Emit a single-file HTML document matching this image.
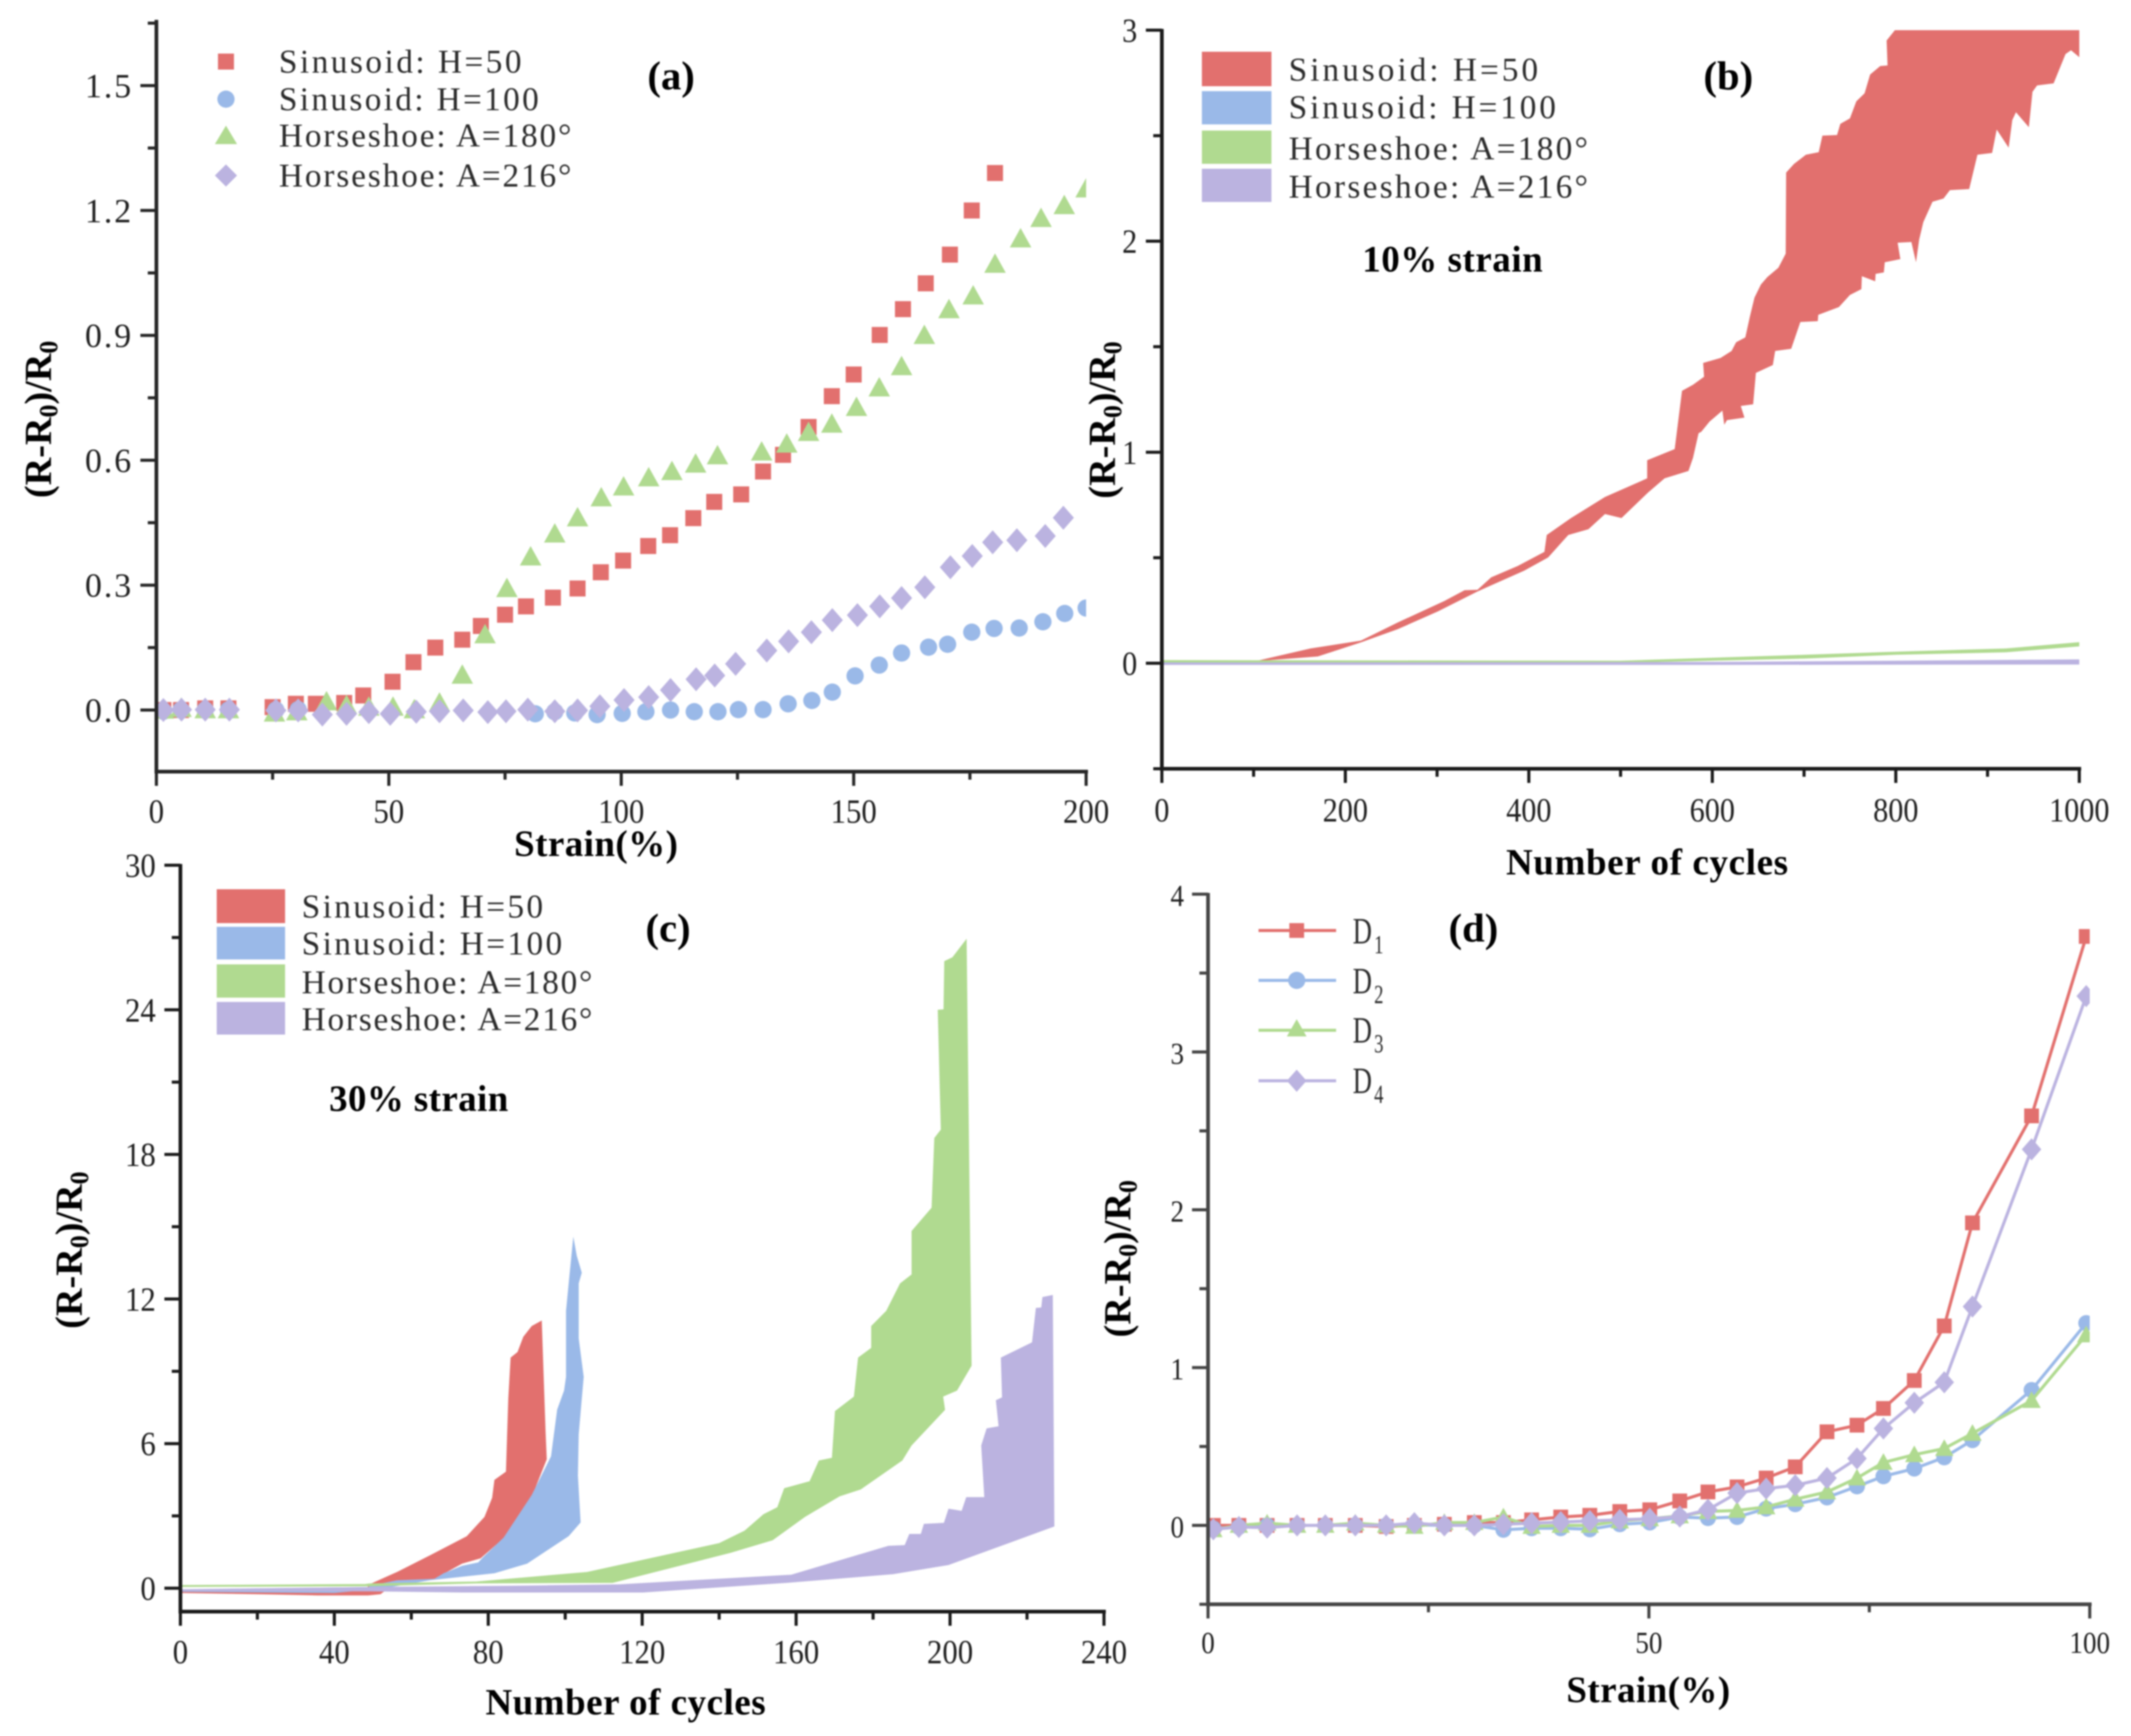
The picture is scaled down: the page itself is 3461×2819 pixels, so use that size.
<!DOCTYPE html>
<html lang="en">
<head>
<meta charset="utf-8">
<title>Resistance change panels</title>
<style>
html,body{margin:0;padding:0;background:#fff;}
svg{display:block;filter:blur(1.2px);}
.tick{font-family:"Liberation Serif",serif;fill:#1e1e1e;}
.leg{font-family:"Liberation Serif",serif;font-size:54px;fill:#2a2a2a;}
.bold{font-family:"Liberation Serif",serif;font-weight:bold;fill:#000;}
</style>
</head>
<body>
<svg id="fig" xmlns="http://www.w3.org/2000/svg" width="3461" height="2819" viewBox="0 0 3461 2819">
<rect width="3461" height="2819" fill="#fff"/>
<defs>
<clipPath id="clip-a"><rect x="254" y="0" width="1510" height="1400"/></clipPath>
<clipPath id="clip-b"><rect x="1887" y="49" width="1490" height="1200"/></clipPath>
<clipPath id="clip-c"><rect x="293" y="1405" width="1500" height="1213"/></clipPath>
<clipPath id="clip-d"><rect x="1962" y="1400" width="1432" height="1300"/></clipPath>
</defs>
<g id="panel-a"></g>
<g id="panel-b"></g>
<g id="panel-c"></g>
<g id="panel-d"></g>

<!-- panel a static text and legend -->
<text class="bold" x="1090" y="145" font-size="66" text-anchor="middle">(a)</text>
<text class="bold" x="968" y="1390" font-size="60" text-anchor="middle" textLength="266">Strain(%)</text>
<text class="bold" transform="translate(83 681) rotate(-90)" font-size="62" text-anchor="middle">(R-R<tspan dy="10" font-size="42">0</tspan><tspan dy="-10">)/R</tspan><tspan dy="10" font-size="42">0</tspan></text>
<g>
<rect x="354" y="87" width="26" height="26" fill="#E2706E"/>
<circle cx="367" cy="161" r="14" fill="#9AB9E8"/>
<polygon points="367,204 385,234 349,234" fill="#B0DA90"/>
<polygon points="367,267 385,285 367,303 349,285" fill="#BBB3E0"/>
<text class="leg" x="453" y="118" textLength="394">Sinusoid: H=50</text>
<text class="leg" x="453" y="179" textLength="422">Sinusoid: H=100</text>
<text class="leg" x="453" y="238" textLength="475">Horseshoe: A=180°</text>
<text class="leg" x="453" y="303" textLength="475">Horseshoe: A=216°</text>
</g>

<!-- panel b static text and legend -->
<text class="bold" x="2807" y="145" font-size="66" text-anchor="middle">(b)</text>
<text class="bold" x="2359" y="441" font-size="60" text-anchor="middle" textLength="293">10% strain</text>
<text class="bold" x="2675" y="1420" font-size="60" text-anchor="middle" textLength="458">Number of cycles</text>
<text class="bold" transform="translate(1811 682) rotate(-90)" font-size="62" text-anchor="middle">(R-R<tspan dy="10" font-size="42">0</tspan><tspan dy="-10">)/R</tspan><tspan dy="10" font-size="42">0</tspan></text>
<g>
<rect x="1952" y="84" width="113" height="56" fill="#E2706E"/>
<rect x="1952" y="148" width="113" height="54" fill="#9AB9E8"/>
<rect x="1952" y="212" width="113" height="54" fill="#B0DA90"/>
<rect x="1952" y="274" width="113" height="54" fill="#BBB3E0"/>
<text class="leg" x="2093" y="131" textLength="405">Sinusoid: H=50</text>
<text class="leg" x="2093" y="192" textLength="434">Sinusoid: H=100</text>
<text class="leg" x="2093" y="259" textLength="486">Horseshoe: A=180°</text>
<text class="leg" x="2093" y="321" textLength="486">Horseshoe: A=216°</text>
</g>

<!-- panel c static text and legend -->
<text class="bold" x="1085" y="1529" font-size="66" text-anchor="middle">(c)</text>
<text class="bold" x="680" y="1804" font-size="60" text-anchor="middle" textLength="291">30% strain</text>
<text class="bold" x="1016" y="2784" font-size="60" text-anchor="middle" textLength="455">Number of cycles</text>
<text class="bold" transform="translate(133 2030) rotate(-90)" font-size="62" text-anchor="middle">(R-R<tspan dy="10" font-size="42">0</tspan><tspan dy="-10">)/R</tspan><tspan dy="10" font-size="42">0</tspan></text>
<g>
<rect x="352" y="1444" width="111" height="55" fill="#E2706E"/>
<rect x="352" y="1505" width="111" height="53" fill="#9AB9E8"/>
<rect x="352" y="1566" width="111" height="54" fill="#B0DA90"/>
<rect x="352" y="1627" width="111" height="53" fill="#BBB3E0"/>
<text class="leg" x="490" y="1490" textLength="392">Sinusoid: H=50</text>
<text class="leg" x="490" y="1550" textLength="423">Sinusoid: H=100</text>
<text class="leg" x="490" y="1613" textLength="472">Horseshoe: A=180°</text>
<text class="leg" x="490" y="1673" textLength="472">Horseshoe: A=216°</text>
</g>

<!-- panel d static text and legend -->
<text class="bold" x="2393" y="1529" font-size="66" text-anchor="middle">(d)</text>
<text class="bold" x="2677" y="2764" font-size="60" text-anchor="middle" textLength="266">Strain(%)</text>
<text class="bold" transform="translate(1836 2044) rotate(-90)" font-size="62" text-anchor="middle">(R-R<tspan dy="10" font-size="42">0</tspan><tspan dy="-10">)/R</tspan><tspan dy="10" font-size="42">0</tspan></text>
<g>
<line x1="2044" y1="1511" x2="2170" y2="1511" stroke="#E2706E" stroke-width="5"/>
<rect x="2094" y="1499" width="24" height="24" fill="#E2706E"/>
<line x1="2044" y1="1592" x2="2170" y2="1592" stroke="#9AB9E8" stroke-width="5"/>
<circle cx="2106" cy="1592" r="14" fill="#9AB9E8"/>
<line x1="2044" y1="1673" x2="2170" y2="1673" stroke="#B0DA90" stroke-width="5"/>
<polygon points="2106,1655 2122,1683 2090,1683" fill="#B0DA90"/>
<line x1="2044" y1="1755" x2="2170" y2="1755" stroke="#BBB3E0" stroke-width="5"/>
<polygon points="2106,1737 2122,1755 2106,1773 2090,1755" fill="#BBB3E0"/>
<text class="leg" transform="translate(2197 1532) scale(.72 1)" style="font-size:60px">D<tspan dx="5" dy="16" font-size="42">1</tspan></text>
<text class="leg" transform="translate(2197 1613) scale(.72 1)" style="font-size:60px">D<tspan dx="5" dy="16" font-size="42">2</tspan></text>
<text class="leg" transform="translate(2197 1693) scale(.72 1)" style="font-size:60px">D<tspan dx="5" dy="16" font-size="42">3</tspan></text>
<text class="leg" transform="translate(2197 1775) scale(.72 1)" style="font-size:60px">D<tspan dx="5" dy="16" font-size="42">4</tspan></text>
</g>
</svg>

<script>
// ---- Panel (a): scatter data ----
const aRedX = [1.5,5.3,10.5,15.5,25,30,34.3,40.4,44.5,50.8,55.3,60,65.8,69.8,75,79.5,85.3,90.6,95.6,100.4,105.8,110.5,115.5,120,125.8,130.5,134.8,140.3,145.3,150,155.6,160.6,165.5,170.7,175.4,180.4];
const aRedY = [0,0,.004,.004,.007,.015,.015,.017,.035,.068,.115,.15,.169,.202,.229,.249,.27,.292,.331,.359,.394,.42,.461,.5,.518,.573,.613,.68,.754,.806,.901,.963,1.025,1.094,1.2,1.29];
const aBlueX = [1.5,5.3,10.5,15.5,25.7,30.5,81.5,85.7,90,94.8,100.2,105.3,110.6,115.7,120.8,125.2,130.5,135.9,141,145.4,150.3,155.5,160.3,166.1,170.2,175.4,180.2,185.6,190.7,195.4,200];
const aBlueY = [-.003,0,0,0,0,.001,-.009,-.004,-.007,-.011,-.008,-.004,0,-.004,-.004,.001,.001,.015,.023,.043,.082,.108,.137,.151,.158,.187,.196,.197,.212,.232,.245];
const aGreenX = [1.5,5.3,10.5,15.5,25.4,30.2,36.6,40.9,45.7,50.9,55.5,60.9,65.8,70.7,75.4,80.5,85.7,90.6,95.7,100.5,105.9,110.9,116,120.7,130.2,135.6,140.3,145.3,150.6,155.5,160.3,165.2,170.5,175.7,180.4,185.9,190.3,195.3,200];
const aGreenY = [0,.004,.001,.001,-.007,-.004,.02,.011,.007,.007,.001,.017,.084,.181,.292,.368,.423,.462,.51,.536,.558,.573,.591,.611,.62,.639,.667,.687,.727,.774,.825,.9,.962,.995,1.071,1.132,1.181,1.212,1.252];
const aPurpleX = [1.5,5.4,10.5,15.7,25.7,30.5,35.7,40.9,45.7,50.3,55.9,60.9,66,71.3,75.2,79.9,85.7,90.6,95.4,100.6,105.9,110.6,116.1,120.1,124.6,131.3,136,140.9,145.4,150.8,155.6,160.3,165.3,170.8,175.5,179.9,185.1,191.2,195.1];
const aPurpleY = [0,.001,.001,.001,-.001,-.001,-.011,-.009,-.005,-.009,-.004,-.003,-.001,-.005,-.003,.001,-.003,-.001,.009,.024,.031,.048,.074,.083,.111,.143,.165,.187,.216,.228,.249,.269,.295,.343,.37,.403,.408,.418,.462];
const aXTicks = [0,50,100,150,200];
const aXMinor = [25,75,125,175];
const aYTicks = [0,.3,.6,.9,1.2,1.5];
const aYLabels = ['0.0','0.3','0.6','0.9','1.2','1.5'];
const aYMinor = [.15,.45,.75,1.05,1.35,1.65];

// ---- Panel (b): band data (upper edge left to right, lower edge right to left) ----
const bRedUpperX = [103,162,217,257,308,330,344,359,388,417,419.5,446,483,529,529,559,567,579,591,590,609,621,626,636,641,646,653,660,672,680,680.5,689,702,716,720,736,739.5,750,757,766,772,783,791,790,799,1000];
const bRedUpperY = [.011,.07,.107,.193,.295,.346,.348,.407,.461,.528,.608,.688,.788,.876,.962,1.015,1.291,1.32,1.358,1.423,1.447,1.48,1.521,1.544,1.644,1.733,1.795,1.83,1.874,1.941,2.325,2.366,2.41,2.422,2.5,2.503,2.556,2.582,2.663,2.701,2.79,2.83,2.833,2.951,3,3];
const bRedLowerX = [1000,991,985,972,954,949,945,931,927,923,910,905,889,880,859,852,840,830,825.5,822,817,802,805,788,787,778,777.5,763,762.5,750,738,715.5,715,696,686,668.5,666,647.5,644.5,631,635,616,613,611,597,588,585,579,574,548,530,501,483,465,443,421,395,344,301,257,217,170,103];
const bRedLowerY = [2.872,2.905,2.887,2.748,2.738,2.708,2.54,2.611,2.574,2.443,2.529,2.418,2.41,2.247,2.242,2.202,2.187,2.09,2.008,1.9,1.996,1.993,1.915,1.9,1.852,1.845,1.81,1.834,1.773,1.745,1.688,1.651,1.621,1.617,1.49,1.48,1.413,1.376,1.227,1.219,1.164,1.152,1.13,1.197,1.145,1.097,1.09,.974,.911,.876,.809,.688,.707,.635,.608,.501,.439,.34,.246,.161,.099,.032,.01];
const bBlueUpperX = [0,1000];
const bBlueUpperY = [.006,.006];
const bBlueLowerX = [1000,0];
const bBlueLowerY = [-.004,-.004];
const bGreenUpperX = [0,500,700,800,920,1000];
const bGreenUpperY = [.015,.012,.04,.055,.07,.10];
const bGreenLowerX = [1000,920,800,700,500,0];
const bGreenLowerY = [.08,.052,.04,.022,.002,.004];
const bPurpleUpperX = [0,600,1000];
const bPurpleUpperY = [.003,.006,.018];
const bPurpleLowerX = [1000,600,0];
const bPurpleLowerY = [-.006,-.008,-.008];
const bXTicks = [0,200,400,600,800,1000];
const bXMinor = [100,300,500,700,900];
const bYTicks = [0,1,2,3];
const bYMinor = [-.5,.5,1.5,2.5];

// ---- Panel (c): band data ----
const cRedUpperX = [0,48,49.1,56.3,64.8,74.4,79,81,81.6,84.6,85.2,85.8,87.6,89.1,91.3,93.9];
const cRedUpperY = [-.05,-.1,.161,.674,1.359,2.157,2.956,3.754,4.496,4.838,7.861,9.57,9.8,10.43,10.88,11.11];
const cRedLowerX = [94.3,94.9,95.2,91.5,84.6,78,73.2,66,56.3,52,48.8,35.7,19.7,0];
const cRedLowerY = [9.23,6.49,5.35,3.87,2.16,1.24,1.02,.39,.275,-.25,-.3,-.3,-.25,-.2];
const cBlueUpperX = [0,49,49.1,56.3,66,68.4,73.2,77.4,78.6,84,91.3,96.3,97.9,99.7,100.2,100.2,100.9,101.6,102.1];
const cBlueUpperY = [-.05,.05,.1,.33,.39,.62,.93,1.07,1.28,2.1,3.87,5.47,7.41,8.2,8.77,11.51,12.65,13.79,14.59];
const cBlueLowerX = [103,104.3,103.5,103.5,104.8,103.5,103.3,104,100.9,90.1,81.6,64.8,52.7,40,0];
const cBlueLowerY = [13.79,13.09,12.65,10.37,8.77,6.38,4.67,2.73,2.16,1.02,.62,.33,-.01,-.2,-.15];
const cGreenUpperX = [0,48,49.1,76.8,105.7,140,146.6,151.5,155.1,156.9,163.5,165.9,169.3,170.1,175,176.1,179.5,179.5,183.4,187,190,190,195.2,195.9,197.6,196.8,198.3,198.5,200.6,204.3];
const cGreenUpperY = [.13,.17,.2,.275,.674,1.87,2.39,3.07,3.36,4.15,4.44,5.3,5.41,7.35,7.95,9.57,9.97,10.88,11.51,12.65,13.02,14.82,15.79,18.68,19.03,24,24.02,26.02,26.18,26.95];
const cGreenLowerX = [205.6,201.8,198.2,198.7,190,187.6,176.8,171.3,162.3,153.9,143,112.3,76.8,49.1,0];
const cGreenLowerY = [9.23,8.2,7.95,7.4,5.92,5.3,4.1,3.81,2.96,1.99,1.47,.22,.2,.08,.05];
const cPurpleUpperX = [0,49.1,85.2,114.1,158.7,184,188.2,189.4,192.4,193.2,198.4,199.6,203,204.2,208.9,208.1,209.5,212.6,211.9,213.5,213.2,221.3,222.3,223.7,224,226.7];
const cPurpleUpperY = [-.04,.05,.1,.16,.56,1.76,1.79,2.25,2.25,2.67,2.71,3.3,3.21,3.78,3.78,5.92,6.63,6.72,7.8,7.92,9.57,10.2,11.63,11.65,12.08,12.17];
const cPurpleLowerX = [227.1,199.6,185.2,157.5,120.2,97.3,73.2,49.1,0];
const cPurpleLowerY = [2.56,.96,.58,.22,-.18,-.18,-.18,-.13,-.12];
const cXTicks = [0,40,80,120,160,200,240];
const cXMinor = [20,60,100,140,180,220];
const cYTicks = [0,6,12,18,24,30];
const cYMinor = [3,9,15,21,27];

// ---- Panel (d): line data ----
const dStrain = [.6,3.5,6.7,10.1,13.3,16.7,20.2,23.4,26.8,30.2,33.5,36.7,40,43.3,46.7,50.1,53.5,56.7,60,63.3,66.6,70.2,73.6,76.6,80.1,83.5,86.7,93.4,99.6];
const dD1 = [0,0,0,0,0,0,-.007,0,.007,.018,.018,.035,.053,.064,.088,.099,.155,.212,.244,.3,.371,.593,.635,.741,.918,1.264,1.917,2.595,3.732];
const dD2 = [-.02,-.01,0,0,0,0,0,.004,0,0,-.028,-.018,-.018,-.025,.007,.018,.053,.046,.053,.106,.134,.177,.247,.311,.36,.431,.54,.858,1.282];
const dD3 = [-.028,0,.014,0,0,.014,0,-.007,.018,.018,.053,-.007,0,0,.028,.042,.06,.088,.095,.117,.166,.212,.3,.399,.448,.487,.583,.791,1.207];
const dD4 = [-.025,-.01,-.014,0,0,0,0,.014,0,0,.007,.014,.021,.028,.035,.042,.056,.099,.205,.233,.254,.3,.424,.614,.777,.907,1.387,2.383,3.354];
const dXTicks = [0,50,100];
const dXMinor = [25,75];
const dYTicks = [0,1,2,3,4];
const dYMinor = [-.5,.5,1.5,2.5,3.5];

const NS = 'http://www.w3.org/2000/svg';
const RED = '#E2706E', BLUE = '#9AB9E8', GREEN = '#B0DA90', PURPLE = '#BBB3E0';

function linear(d0, d1, r0, r1) {
  return function (v) { return r0 + (v - d0) * (r1 - r0) / (d1 - d0); };
}
function make(tag, parent, attrs) {
  const el = document.createElementNS(NS, tag);
  for (const k in attrs) el.setAttribute(k, attrs[k]);
  parent.appendChild(el);
  return el;
}
function tickLabel(g, x, y, anchor, str, o) {
  const l = make('text', g, {
    x: x, y: y, 'text-anchor': anchor, 'class': 'tick',
    style: 'font-size:' + o.size + 'px',
    textLength: str.length * o.charW,
    lengthAdjust: str.indexOf('.') >= 0 ? 'spacing' : 'spacingAndGlyphs'
  });
  l.textContent = str;
  return l;
}

function drawAxes(g, prefix, xs, ys, o) {
  const xAxisY = ys(o.yMin), yAxisX = xs(o.xMin);
  const color = o.color;
  const xLine = make('line', g, {x1: yAxisX - 3, y1: xAxisY, x2: xs(o.xMax) + 3, y2: xAxisY, stroke: color, 'stroke-width': 6});
  
  
  const yLine = make('line', g, {x1: yAxisX, y1: ys(o.yMax) - 2, x2: yAxisX, y2: xAxisY + 2, stroke: color, 'stroke-width': 6});
  
  

  o.xTicks.forEach(function (v) {
    const t = make('line', g, {x1: xs(v), y1: xAxisY, x2: xs(v), y2: xAxisY + 23, stroke: color, 'stroke-width': 5});
    
    
    const l = tickLabel(g, xs(v), o.xLabelY, 'middle', String(v), o);
    
    
  });
  o.xMinor.forEach(function (v) {
    const t = make('line', g, {x1: xs(v), y1: xAxisY, x2: xs(v), y2: xAxisY + 13, stroke: color, 'stroke-width': 5});
    
    
  });
  o.yTicks.forEach(function (v, i) {
    const t = make('line', g, {x1: yAxisX - 26, y1: ys(v), x2: yAxisX, y2: ys(v), stroke: color, 'stroke-width': 5});
    
    
    const l = tickLabel(g, o.yLabelX, ys(v) + 19, 'end', o.yLabels ? o.yLabels[i] : String(v), o);
    
    
  });
  o.yMinor.forEach(function (v) {
    const t = make('line', g, {x1: yAxisX - 14, y1: ys(v), x2: yAxisX, y2: ys(v), stroke: color, 'stroke-width': 5});
    
    
  });
}

function drawBand(g, name, xs, ys, upX, upY, loX, loY, fill, clip) {
  const pts = [];
  upX.forEach(function (v, i) { pts.push(xs(v).toFixed(1) + ',' + ys(upY[i]).toFixed(1)); });
  loX.forEach(function (v, i) { pts.push(xs(v).toFixed(1) + ',' + ys(loY[i]).toFixed(1)); });
  const p = make('polygon', g, {points: pts.join(' '), fill: fill, 'clip-path': 'url(#' + clip + ')'});
  
  
}

function drawMarker(g, name, kind, cx, cy, fill, s) {
  let el;
  if (kind === 'square') {
    el = make('rect', g, {x: cx - s, y: cy - s, width: 2 * s, height: 2 * s, fill: fill});
  } else if (kind === 'circle') {
    el = make('circle', g, {cx: cx, cy: cy, r: s * 1.08, fill: fill});
  } else if (kind === 'triangle') {
    el = make('polygon', g, {points: cx + ',' + (cy - s * 1.25) + ' ' + (cx + s * 1.25) + ',' + (cy + s) + ' ' + (cx - s * 1.25) + ',' + (cy + s), fill: fill});
  } else {
    el = make('polygon', g, {points: cx + ',' + (cy - s * 1.5) + ' ' + (cx + s * 1.32) + ',' + cy + ' ' + cx + ',' + (cy + s * 1.5) + ' ' + (cx - s * 1.32) + ',' + cy, fill: fill});
  }
  
  
}

function drawScatter(g, name, xs, ys, X, Y, kind, fill, s) {
  const sg = make('g', g, {});
  
  
  X.forEach(function (v, i) { drawMarker(sg, name + '-point', kind, xs(v), ys(Y[i]), fill, s); });
}

function drawLine(g, name, xs, ys, X, Y, kind, fill, s) {
  const sg = make('g', g, {});
  
  
  const pts = X.map(function (v, i) { return xs(v).toFixed(1) + ',' + ys(Y[i]).toFixed(1); }).join(' ');
  const line = make('polyline', sg, {points: pts, fill: 'none', stroke: fill, 'stroke-width': 5});
  
  
  X.forEach(function (v, i) { drawMarker(sg, name + '-point', kind, xs(v), ys(Y[i]), fill, s); });
}

// Panel a
(function () {
  const g = document.getElementById('panel-a');
  const xs = linear(0, 200, 254, 1764);
  const ys = linear(0, 1.5, 1153, 139);
  const data = make('g', g, {'clip-path': 'url(#clip-a)'});
  
  
  drawScatter(data, 'sinusoid-h50', xs, ys, aRedX, aRedY, 'square', RED, 13);
  drawScatter(data, 'sinusoid-h100', xs, ys, aBlueX, aBlueY, 'circle', BLUE, 13);
  drawScatter(data, 'horseshoe-a180', xs, ys, aGreenX, aGreenY, 'triangle', GREEN, 14);
  drawScatter(data, 'horseshoe-a216', xs, ys, aPurpleX, aPurpleY, 'diamond', PURPLE, 13);
  drawAxes(g, 'panel-a', xs, ys, {xMin: 0, xMax: 200, yMin: -.148, yMax: 1.655, xTicks: aXTicks, xMinor: aXMinor, yTicks: aYTicks, yLabels: aYLabels, yMinor: aYMinor, xLabelY: 1336, yLabelX: 213, size: 55, charW: 25, color: '#262626'});
})();

// Panel b
(function () {
  const g = document.getElementById('panel-b');
  const xs = linear(0, 1000, 1887, 3377);
  const ys = linear(0, 3, 1077, 49);
  drawBand(g, 'band-sinusoid-h50', xs, ys, bRedUpperX, bRedUpperY, bRedLowerX, bRedLowerY, RED, 'clip-b');
  drawBand(g, 'band-sinusoid-h100', xs, ys, bBlueUpperX, bBlueUpperY, bBlueLowerX, bBlueLowerY, BLUE, 'clip-b');
  drawBand(g, 'band-horseshoe-a180', xs, ys, bGreenUpperX, bGreenUpperY, bGreenLowerX, bGreenLowerY, GREEN, 'clip-b');
  drawBand(g, 'band-horseshoe-a216', xs, ys, bPurpleUpperX, bPurpleUpperY, bPurpleLowerX, bPurpleLowerY, PURPLE, 'clip-b');
  drawAxes(g, 'panel-b', xs, ys, {xMin: 0, xMax: 1000, yMin: -.5, yMax: 3, xTicks: bXTicks, xMinor: bXMinor, yTicks: bYTicks, yMinor: bYMinor, xLabelY: 1334, yLabelX: 1847, size: 55, charW: 24.5, color: '#1a1a1a'});
})();

// Panel c
(function () {
  const g = document.getElementById('panel-c');
  const xs = linear(0, 240, 293, 1793);
  const ys = linear(0, 30, 2579, 1405);
  drawBand(g, 'band-sinusoid-h50', xs, ys, cRedUpperX, cRedUpperY, cRedLowerX, cRedLowerY, RED, 'clip-c');
  drawBand(g, 'band-sinusoid-h100', xs, ys, cBlueUpperX, cBlueUpperY, cBlueLowerX, cBlueLowerY, BLUE, 'clip-c');
  drawBand(g, 'band-horseshoe-a180', xs, ys, cGreenUpperX, cGreenUpperY, cGreenLowerX, cGreenLowerY, GREEN, 'clip-c');
  drawBand(g, 'band-horseshoe-a216', xs, ys, cPurpleUpperX, cPurpleUpperY, cPurpleLowerX, cPurpleLowerY, PURPLE, 'clip-c');
  drawAxes(g, 'panel-c', xs, ys, {xMin: 0, xMax: 240, yMin: -.97, yMax: 30, xTicks: cXTicks, xMinor: cXMinor, yTicks: cYTicks, yMinor: cYMinor, xLabelY: 2701, yLabelX: 253, size: 55, charW: 25, color: '#1a1a1a'});
})();

// Panel d
(function () {
  const g = document.getElementById('panel-d');
  const xs = linear(0, 100, 1962, 3394);
  const ys = linear(0, 4, 2477, 1452);
  const data = make('g', g, {'clip-path': 'url(#clip-d)'});
  
  
  drawLine(data, 'd1', xs, ys, dStrain, dD1, 'square', RED, 12);
  drawLine(data, 'd2', xs, ys, dStrain, dD2, 'circle', BLUE, 12);
  drawLine(data, 'd3', xs, ys, dStrain, dD3, 'triangle', GREEN, 12);
  drawLine(data, 'd4', xs, ys, dStrain, dD4, 'diamond', PURPLE, 12);
  drawAxes(g, 'panel-d', xs, ys, {xMin: 0, xMax: 100, yMin: -.5, yMax: 4, xTicks: dXTicks, xMinor: dXMinor, yTicks: dYTicks, yMinor: dYMinor, xLabelY: 2684, yLabelX: 1923, size: 50, charW: 22, color: '#444'});
})();
</script>
</body>
</html>
